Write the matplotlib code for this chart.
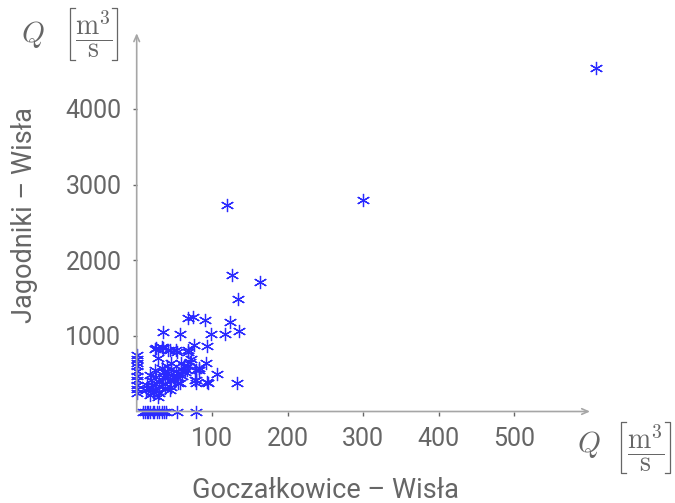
import matplotlib
matplotlib.use("Agg")
import matplotlib.pyplot as plt
from matplotlib.lines import Line2D

plt.rcParams['font.family'] = ['Roboto', 'DejaVu Sans']
plt.rcParams['mathtext.fontset'] = 'cm'

# Przepływy: Goczałkowice (x) i Jagodniki (y) [m3/s]
x_gocz = [608, 300, 119, 126, 163, 134,
          68, 75, 90, 124, 136, 117, 98, 57, 35,
          93, 76, 68, 52, 44, 26, 35, 24, 33, 42, 53, 68,
          28, 46, 59, 66, 55, 42, 33, 24, 17, 19, 30, 44, 55,
          15, 26, 37, 46, 28, 17, 79, 79, 57, 79, 95, 133, 93,
          92, 82, 106, 77, 83,
          35, 40, 48, 50, 38, 30, 22, 20, 45, 60, 62, 70, 72,
          36, 26, 12, 14, 52, 64, 40, 30, 44, 54, 68, 58,
          0, 0, 0, 0, 0, 0, 0, 0, 0, 0,
          8, 11, 14, 15, 18, 21, 23, 27, 29, 33, 36, 39, 54, 79]
y_jag = [4540, 2800, 2730, 1810, 1710, 1490,
         1240, 1250, 1210, 1180, 1070, 1030, 1030, 1020, 1050,
         870, 880, 815, 815, 815, 837, 837, 824, 859, 815, 793, 793,
         705, 640, 640, 550, 507, 507, 573, 551, 485, 419, 396, 419, 375,
         309, 287, 309, 330, 198, 221, 551, 419, 375, 375, 375, 380, 396,
         639, 573, 500, 419, 551,
         450, 470, 460, 420, 360, 340, 260, 350, 560, 470, 600, 660, 700,
         520, 460, 280, 350, 540, 520, 600, 250, 280, 450, 600, 560,
         250, 300, 350, 420, 470, 530, 600, 640, 690, 750,
         0, 0, 0, 0, 0, 0, 0, 0, 0, 0, 0, 0, 0, 0]

x_ticks = [100, 200, 300, 400, 500]
y_ticks = [1000, 2000, 3000, 4000]

txt = '#666666'
axc = '#a6a6a6'
W, H = 675, 503


def px(x, y):
    return x / W, 1 - y / H


fig = plt.figure(figsize=(6.75, 5.03), dpi=100)
ax = fig.add_axes([0.2025, 0.1819, 0.6716, 0.752])

ax.plot(x_gocz, y_jag, linestyle='none', marker=(6, 2, 0), markersize=9.5,
        markeredgewidth=0.9, color='#2a2aff', clip_on=False, zorder=3)

ax.set_xlim(0, 600)
ax.set_ylim(0, 5000)
for s in ax.spines.values():
    s.set_visible(False)

# osie ze strzałkami
arrow = dict(arrowstyle='->,head_length=0.45,head_width=0.2', color=axc, lw=1.2,
             shrinkA=0, shrinkB=0)
ax.annotate('', xy=(1, 0), xytext=(0, 0), xycoords='axes fraction', arrowprops=arrow)
ax.annotate('', xy=(0, 1), xytext=(0, 0), xycoords='axes fraction', arrowprops=arrow)

ax.set_xticks(x_ticks)
ax.set_yticks(y_ticks)
ax.tick_params(direction='out', length=3, width=1, color=txt, labelcolor=txt,
               labelsize=18)
ax.tick_params(axis='x', pad=8)
ax.tick_params(axis='y', pad=8)

# podpisy osi
fig.text(*px(325, 490), 'Goczałkowice – Wisła', color=txt, fontsize=19.5,
         ha='center', va='center')
fig.text(*px(25, 215), 'Jagodniki – Wisła', color=txt, fontsize=19.5,
         ha='center', va='center', rotation=90)


def jednostka(xq, yq, xl, xr, yt, yb):
    # Q [m^3/s] z nawiasami rysowanymi liniami
    fig.text(*px(xq, yq), r'$Q$', color=txt, fontsize=21, ha='center', va='center')
    fig.text(*px((xl + xr) / 2, (yt + yb) / 2 + 0.5),
             r'$\dfrac{\mathrm{m}^3}{\mathrm{s}}$', color=txt, fontsize=20,
             ha='center', va='center')
    for x0, dx in ((xl, 5), (xr, -5)):
        xs = [x0 + dx, x0, x0, x0 + dx]
        ys = [yt, yt, yb, yb]
        pts = [px(a, b) for a, b in zip(xs, ys)]
        fig.add_artist(Line2D([p[0] for p in pts], [p[1] for p in pts],
                              transform=fig.transFigure, color=txt, lw=0.9))


jednostka(33, 35, 70, 117, 8, 60)
jednostka(589, 445, 621, 670, 422, 473)

fig.savefig('out.png', dpi=100)
